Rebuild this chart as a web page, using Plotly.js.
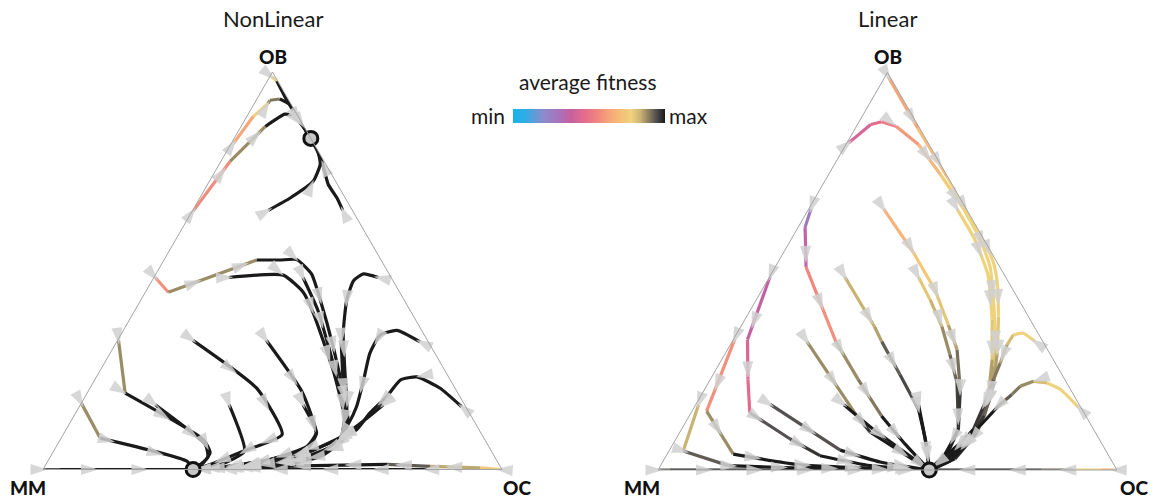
<!DOCTYPE html>
<html><head><meta charset="utf-8">
<script src="https://cdn.plot.ly/plotly-3.0.1.min.js"></script>
<style>html,body{margin:0;padding:0;background:#fff}#chart{width:1155px;height:499px}</style>
</head><body><div id="chart"></div>
<script>
// ---------- text ----------
const PANEL_TITLES = ['NonLinear', 'Linear'];
const VERTEX_LABELS = ['OB', 'MM', 'OC'];
const LEGEND_TITLE = 'average fitness';
const LEGEND_ENDS = ['min', 'max'];

// ---------- colour scale for average fitness (0 = min, 1 = max) ----------
const FIT_SCALE = [
  [0, '#19b2e8'], [0.08, '#2fade4'], [0.2, '#8c8ccc'], [0.3, '#a772bd'],
  [0.38, '#c7609f'], [0.47, '#e56c8d'], [0.55, '#f0837f'], [0.62, '#f5a07a'],
  [0.7, '#f6bc78'], [0.78, '#efd27c'], [0.84, '#c8b274'], [0.89, '#8f8260'],
  [0.94, '#545150'], [1, '#1a1a1a']
];

// ---------- NonLinear panel: trajectories (OB %, OC %; MM is the rest) ----------
const NL_FIXED_OB = [83.3, 0];
const NL_FIXED_OC = [16.7, 32.7];
const NL_OB = [
  [98.8, 97.7, 93.8, 88.8, 85.8, 83.3],
  [82.1, 88.8, 92.1, 92.9, 93.2, 91.8, 87.5, 83.3],
  [65.0, 77.5, 86.3, 89.4, 89.0, 86.3, 83.3],
  [65.2, 68.3, 72.5, 76.8, 80.0, 83.3],
  [65.2, 68.3, 71.7, 77.5, 80.8, 83.3],
  [48.3, 44.6, 52.7, 52.7, 52.8, 49.2, 42.9, 30.0, 17.5, 12.5, 7.5, 3.3, 1.3, 0.2, 0],
  [48.3, 48.9, 44.6, 39.6, 25.0, 15.0, 10.0, 6.0, 2.5, 0.5, 0],
  [48.3, 40.0, 25.0, 13.8, 7.5, 3.0, 0.8, 0],
  [48.3, 49.2, 47.5, 42.5, 34.2, 24.2, 15.8, 9.5, 5.0, 2.0, 0.4, 0],
  [32.1, 35.0, 33.8, 29.2, 22.5, 15.8, 11.3, 6.3, 2.3, 0.4, 0],
  [15.8, 20.5, 23.3, 22.5, 18.3, 14.2, 10.0, 6.7, 2.8, 0.5, 0],
  [16.3, 12.5, 8.8, 4.5, 0.8, 0],
  [32.5, 22.5, 13.8, 7.5, 3.0, 0.8, 0],
  [32.5, 19.6, 9.2, 5.8, 2.5, 0.5, 0],
  [16.3, 9.2, 5.5, 2.5, 0.5, 0],
  [32.5, 20.4, 8.8, 4.6, 0.8, 0],
  [16.3, 4.6, 1.3, 0],
  [32.5, 19.2, 7.5, 4.2, 0.8, 0],
  [16.3, 6.3, 3.0, 0],
  [16.7, 7.9, 2.1, 0],
  [0, 0, 0],
  [0, 0.4, 0.8, 1.3, 0.9, 0.3, 0],
  [0, 0]
];
const NL_OC = [
  [0.4, 2.1, 5.8, 10.9, 14.1, 16.7],
  [0.5, 1.4, 3.0, 3.0, 5.0, 7.9, 12.3, 16.7],
  [0.2, 2.0, 5.3, 8.0, 10.0, 13.5, 16.7],
  [16.5, 19.7, 22.6, 22.0, 19.9, 16.7],
  [32.7, 29.9, 26.3, 22.0, 19.1, 16.7],
  [0.3, 5.0, 20.2, 25.3, 28.9, 33.9, 38.9, 48.4, 57.0, 60.2, 61.6, 58.9, 52.3, 41.1, 32.7],
  [16.3, 27.9, 34.4, 39.0, 50.7, 57.9, 60.8, 60.6, 54.8, 42.7, 32.7],
  [32.5, 39.9, 51.1, 58.9, 61.0, 56.7, 44.7, 32.7],
  [48.9, 45.2, 43.9, 44.9, 48.3, 53.7, 58.3, 60.8, 60.0, 52.8, 40.5, 32.7],
  [66.1, 59.6, 56.5, 56.6, 58.6, 60.4, 60.8, 60.5, 53.8, 41.6, 32.7],
  [83.3, 76.2, 69.8, 66.6, 65.7, 64.1, 63.3, 59.2, 52.4, 41.6, 32.7],
  [66.0, 63.9, 61.4, 55.9, 42.5, 32.7],
  [48.7, 54.1, 58.9, 61.0, 56.7, 44.7, 32.7],
  [32.4, 46.6, 54.9, 54.6, 48.2, 38.3, 32.7],
  [48.5, 55.0, 55.0, 48.2, 38.3, 32.7],
  [16.4, 36.4, 47.7, 41.3, 34.9, 32.7],
  [32.4, 41.6, 38.2, 32.7],
  [0.2, 8.3, 31.2, 34.3, 33.8, 32.7],
  [16.3, 32.2, 34.4, 32.7],
  [0, 8.5, 30.3, 32.7],
  [0, 3.7, 32.7],
  [99.6, 95.0, 83.9, 74.3, 55.6, 40.6, 32.7],
  [83.6, 32.7]
];
const NL_FIT = [
  [0.78, 1, 1, 1, 1, 1],
  [0.64, 0.78, 0.88, 0.9, 1, 1, 1, 1],
  [0.57, 0.88, 1, 1, 1, 1, 1],
  [1, 1, 1, 1, 1, 1],
  [1, 1, 1, 1, 1, 1],
  [0.58, 0.88, 1, 1, 1, 1, 1, 1, 1, 1, 1, 1, 1, 1, 1],
  [1, 1, 1, 1, 1, 1, 1, 1, 1, 1, 1],
  [1, 1, 1, 1, 1, 1, 1, 1],
  [1, 1, 1, 1, 1, 1, 1, 1, 1, 1, 1, 1],
  [1, 1, 1, 1, 1, 1, 1, 1, 1, 1, 1],
  [1, 1, 1, 1, 1, 1, 1, 1, 1, 1, 1],
  [1, 1, 1, 1, 1, 1],
  [1, 1, 1, 1, 1, 1, 1],
  [1, 1, 1, 1, 1, 1, 1],
  [1, 1, 1, 1, 1, 1],
  [1, 1, 1, 1, 1, 1],
  [1, 1, 1, 1],
  [0.88, 1, 1, 1, 1, 1],
  [1, 1, 1, 1],
  [0.88, 1, 1, 1],
  [0.94, 1, 1],
  [0.74, 0.85, 0.93, 1, 1, 1, 1],
  [1, 1]
];

// ---------- Linear panel ----------
const LIN_FIXED_OB = [0];
const LIN_FIXED_OC = [59.1];
const LIN_OB = [
  [98.8, 86.0, 73.6, 64.4, 57.8, 51.9, 46.9, 38.6, 29.4, 21.9, 13.6, 6.9, 1.1, 0],
  [82.3, 86.9, 87.6, 86.5, 81.9, 74.4, 66.1, 57.8, 51.1, 42.8, 34.4, 26.1, 17.8, 9.4, 2.8, 0],
  [65.7, 57.8, 49.0, 37.8, 27.8, 17.8, 9.0, 2.3, 0],
  [65.7, 54.8, 45.3, 36.5, 30.3, 20.3, 10.3, 4.0, 0],
  [48.6, 42.8, 36.1, 29.0, 21.9, 10.3, 3.3, 0],
  [32.3, 34.4, 34.0, 31.5, 26.9, 22.8, 16.1, 10.3, 2.8, 0],
  [15.7, 20.3, 21.9, 22.3, 21.1, 19.0, 16.1, 10.3, 5.3, 0],
  [48.6, 36.1, 32.3, 24.0, 15.3, 6.5, 0],
  [16.5, 7.8, 0],
  [32.3, 13.6, 9.5, 0],
  [16.5, 10.3, 0],
  [65.7, 61.1, 51.1, 42.8, 32.3, 22.8, 13.6, 6.5, 0],
  [48.6, 32.8, 22.8, 14.4, 7.8, 3.6, 1.1, 0],
  [16.5, 5.0, 2.0, 0],
  [32.8, 14.8, 4.0, 1.3, 0],
  [16.5, 4.8, 1.1, 0.5, 0],
  [0, 0, 0],
  [0, 0, 0, 0, 0, 0]
];
const LIN_OC = [
  [0.8, 13.6, 26.3, 35.5, 42.2, 47.2, 50.5, 54.9, 59.2, 62.2, 64.3, 63.7, 60.9, 59.1],
  [0.4, 2.9, 4.9, 8.6, 15.8, 24.3, 33.3, 41.4, 46.8, 51.7, 56.3, 60.1, 63.4, 64.8, 63.3, 59.1],
  [32.3, 40.2, 47.4, 53.9, 58.9, 63.0, 64.6, 62.5, 59.1],
  [16.3, 28.2, 37.7, 45.0, 50.0, 55.7, 60.3, 60.5, 59.1],
  [32.4, 37.9, 43.8, 49.1, 54.2, 60.3, 60.9, 59.1],
  [66.0, 62.4, 60.4, 60.3, 61.1, 61.7, 62.9, 63.6, 61.5, 59.1],
  [83.8, 77.5, 73.8, 70.7, 68.4, 67.6, 66.1, 64.3, 61.7, 59.1],
  [16.4, 29.1, 32.6, 40.7, 49.1, 55.2, 59.1],
  [48.5, 54.3, 59.1],
  [16.3, 36.5, 41.5, 59.1],
  [32.2, 41.7, 59.1],
  [0.5, 1.5, 6.7, 13.7, 22.6, 32.2, 41.9, 50.6, 59.1],
  [0.1, 3.1, 8.2, 12.8, 24.9, 33.5, 45.7, 59.1],
  [16.2, 37.2, 47.4, 59.1],
  [0.3, 3.2, 14.4, 30.3, 59.1],
  [0.6, 3.1, 14.8, 30.7, 59.1],
  [0, 2.6, 59.1],
  [99.4, 96.5, 90.4, 83.6, 78.9, 59.1]
];
const LIN_FIT = [
  [0.64, 0.7, 0.78, 0.78, 0.78, 0.78, 0.78, 0.8, 0.86, 0.92, 0.97, 1, 1, 1],
  [0.42, 0.47, 0.52, 0.6, 0.68, 0.76, 0.78, 0.78, 0.78, 0.78, 0.8, 0.86, 0.92, 0.98, 1, 1],
  [0.78, 0.78, 0.78, 0.8, 0.86, 0.93, 1, 1, 1],
  [0.67, 0.74, 0.8, 0.86, 0.91, 0.97, 1, 1, 1],
  [0.8, 0.84, 0.88, 0.92, 0.96, 1, 1, 1],
  [0.78, 0.78, 0.82, 0.86, 0.9, 0.93, 0.97, 1, 1, 1],
  [0.78, 0.78, 0.82, 0.88, 0.9, 0.93, 1, 1, 1, 1],
  [0.84, 0.86, 0.93, 0.95, 1, 1, 1],
  [1, 1, 1],
  [0.88, 0.97, 1, 1],
  [1, 1, 1],
  [0.27, 0.36, 0.56, 0.58, 0.88, 0.9, 1, 1, 1],
  [0.37, 0.43, 0.46, 0.94, 0.97, 1, 1, 1],
  [0.94, 1, 1, 1],
  [0.58, 0.88, 1, 1, 1],
  [0.84, 0.93, 1, 1, 1],
  [0.93, 1, 1],
  [0.66, 0.78, 0.92, 0.97, 1, 1]
];

// ---------- helpers ----------
function hexToRgb(h) { return [1, 3, 5].map(i => parseInt(h.substr(i, 2), 16)); }
function colorAt(f) {
  for (let i = 1; i < FIT_SCALE.length; i++) {
    const [f1, c1] = FIT_SCALE[i];
    const [f0, c0] = FIT_SCALE[i - 1];
    if (f <= f1) {
      const t = (f - f0) / (f1 - f0);
      const a = hexToRgb(c0), b = hexToRgb(c1);
      return 'rgb(' + a.map((v, k) => Math.round(v + (b[k] - v) * t)).join(',') + ')';
    }
  }
  return FIT_SCALE[FIT_SCALE.length - 1][1];
}
const mmOf = (ob, oc) => ob == null ? null : Math.max(0, 100 - ob - oc);

function lineTraces(OB, OC, FIT, subplot) {
  const groups = {};
  OB.forEach((obs, t) => {
    const ocs = OC[t], fit = FIT[t];
    let run = null, runCol = null;
    const flush = () => {
      if (!run) return;
      const g = groups[runCol] || (groups[runCol] = { a: [], c: [] });
      g.a.push(...run.a, null); g.c.push(...run.c, null);
    };
    for (let i = 0; i < obs.length - 1; i++) {
      const col = colorAt(fit[i]);
      if (col !== runCol) {
        flush();
        run = { a: [obs[i]], c: [ocs[i]] };
        runCol = col;
      }
      run.a.push(obs[i + 1]); run.c.push(ocs[i + 1]);
    }
    flush();
  });
  return Object.keys(groups).sort((x, y) => {
    const s = k => k.match(/\d+/g).map(Number).reduce((p, q) => p + q, 0);
    return s(y) - s(x);
  }).map(col => ({
    type: 'scatterternary', subplot, mode: 'lines', cliponaxis: false,
    a: groups[col].a, c: groups[col].c,
    b: groups[col].a.map((v, i) => mmOf(v, groups[col].c[i])),
    line: { color: col, width: 3.2, shape: 'spline', smoothing: 0.5 },
    connectgaps: false, hoverinfo: 'skip', showlegend: false
  }));
}

function arrowTrace(OB, OC, subplot) {
  const A = [], C = [], ANG = [];
  const step = 0.11, first = 0.01;
  OB.forEach((obs, t) => {
    const ocs = OC[t];
    const P = obs.map((ob, i) => [ocs[i] / 100 + ob / 200, ob / 100 * Math.sqrt(3) / 2]);
    let s0 = 0, target = first;
    for (let i = 0; i < P.length - 1; i++) {
      const dx = P[i + 1][0] - P[i][0], dy = P[i + 1][1] - P[i][1];
      const len = Math.hypot(dx, dy);
      if (len === 0) continue;
      while (target <= s0 + len) {
        const u = (target - s0) / len;
        A.push(obs[i] + (obs[i + 1] - obs[i]) * u);
        C.push(ocs[i] + (ocs[i + 1] - ocs[i]) * u);
        ANG.push(Math.atan2(dx, dy) * 180 / Math.PI);
        target += step;
      }
      s0 += len;
    }
  });
  return {
    type: 'scatterternary', subplot, mode: 'markers', cliponaxis: false,
    a: A, c: C, b: A.map((v, i) => mmOf(v, C[i])),
    marker: { symbol: 'arrow', size: 18, color: 'rgba(208,208,208,0.85)', angle: ANG, line: { width: 0 } },
    hoverinfo: 'skip', showlegend: false
  };
}

function fixedTrace(OBf, OCf, subplot) {
  return {
    type: 'scatterternary', subplot, mode: 'markers', cliponaxis: false,
    a: OBf, c: OCf, b: OBf.map((v, i) => mmOf(v, OCf[i])),
    marker: { size: 14, color: '#c6c6c6', line: { color: '#111', width: 3 } },
    hoverinfo: 'skip', showlegend: false
  };
}

const colorbarTrace = {
  type: 'scatterternary', subplot: 'ternary', mode: 'markers',
  a: [50], b: [25], c: [25],
  marker: {
    size: 1, opacity: 0, color: [0.5], cmin: 0, cmax: 1, colorscale: FIT_SCALE, showscale: true,
    colorbar: {
      orientation: 'h', x: 589 / 1155, xanchor: 'center', y: 1 - 116 / 499, yanchor: 'middle',
      len: 152, lenmode: 'pixels', thickness: 14, thicknessmode: 'pixels',
      outlinewidth: 0, ticks: '', showticklabels: false, xpad: 0, ypad: 0, title: { text: '' }
    }
  },
  hoverinfo: 'skip', showlegend: false
};

const traces = [
  ...lineTraces(NL_OB, NL_OC, NL_FIT, 'ternary'),
  ...lineTraces(LIN_OB, LIN_OC, LIN_FIT, 'ternary2'),
  arrowTrace(NL_OB, NL_OC, 'ternary'),
  arrowTrace(LIN_OB, LIN_OC, 'ternary2'),
  fixedTrace(NL_FIXED_OB, NL_FIXED_OC, 'ternary'),
  fixedTrace(LIN_FIXED_OB, LIN_FIXED_OC, 'ternary2'),
  colorbarTrace
];

const axisStyle = () => ({
  showgrid: false, showline: true, linecolor: '#a3a3a3', linewidth: 1,
  ticks: '', showticklabels: false, title: { text: '' }, min: 0
});
const ternaryLayout = (dx, dy) => ({
  domain: { x: dx, y: dy }, sum: 100, bgcolor: 'rgba(0,0,0,0)',
  aaxis: axisStyle(), baxis: axisStyle(), caxis: axisStyle()
});

const FONT = 'Lato, "Open Sans", sans-serif';
const W = 1155, H = 499;
const ann = (text, px, py, size, opts = {}) => Object.assign({
  text, xref: 'paper', yref: 'paper', x: px / W, y: 1 - py / H,
  xanchor: 'center', yanchor: 'middle', showarrow: false,
  font: { family: FONT, size, color: '#1a1a1a' }
}, opts);
const bold = (text, px, py) => ann(text, px, py, 19, { font: { family: FONT, size: 19, color: '#111', weight: 900 } });

const layout = {
  width: W, height: H, margin: { l: 0, r: 0, t: 0, b: 0 },
  paper_bgcolor: '#fff', showlegend: false,
  font: { family: FONT },
  ternary: ternaryLayout([43 / W, 502 / W], [1 - 470.5 / H, 1 - 71 / H]),
  ternary2: ternaryLayout([658 / W, 1117 / W], [1 - 471.5 / H, 1 - 71 / H]),
  annotations: [
    ann(PANEL_TITLES[0], 272.5, 18, 22),
    ann(PANEL_TITLES[1], 887.5, 18, 22),
    bold(VERTEX_LABELS[0], 272.5, 56), bold(VERTEX_LABELS[1], 28, 487), bold(VERTEX_LABELS[2], 517, 487),
    bold(VERTEX_LABELS[0], 887.5, 56), bold(VERTEX_LABELS[1], 642, 487), bold(VERTEX_LABELS[2], 1134, 487),
    ann(LEGEND_TITLE, 588, 81, 21),
    ann(LEGEND_ENDS[0], 507, 115, 21, { xanchor: 'right' }),
    ann(LEGEND_ENDS[1], 667, 115, 21, { xanchor: 'left' })
  ]
};

Plotly.newPlot('chart', traces, layout, { staticPlot: true, displayModeBar: false });
</script>
</body></html>
